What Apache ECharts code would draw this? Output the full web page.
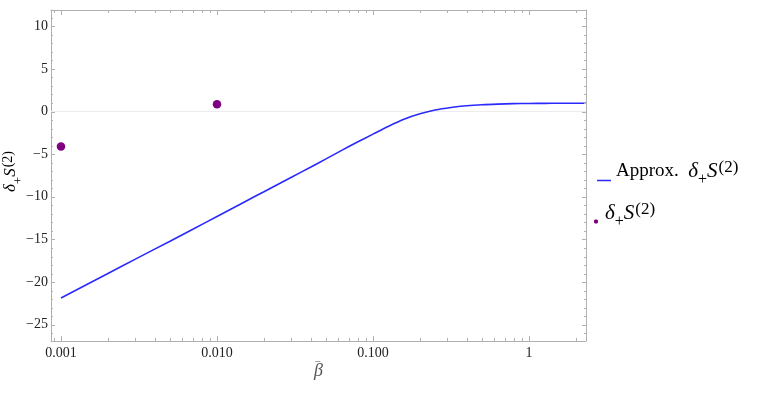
<!DOCTYPE html>
<html>
<head>
<meta charset="utf-8">
<script src="https://cdn.jsdelivr.net/npm/echarts@6/dist/echarts.min.js"></script>
<style>html,body{margin:0;padding:0;background:#fff}#c{width:763px;height:393px}</style>
</head>
<body>
<div id="c"></div>
<script>
// ---- data ----
const curveX = [0.001,0.002,0.003,0.005,0.007,0.01,0.015,0.02,0.03,0.04,0.05,0.063,0.079,0.1,0.126,0.158,0.2,0.25,0.316,0.398,0.5,0.63,0.79,1,1.26,1.58,2,2.32];
const curveY = [-21.85,-18.98,-17.3,-15.2,-13.8,-12.3,-10.6,-9.4,-7.7,-6.5,-5.55,-4.55,-3.6,-2.65,-1.72,-0.9,-0.27,0.18,0.48,0.68,0.8,0.87,0.92,0.945,0.96,0.965,0.97,0.97];
const pointX = [0.001, 0.01];
const pointY = [-4.1, 0.85];
const xMajorTicks = [0.001, 0.01, 0.1, 1];
const xTickLabels = ['0.001', '0.010', '0.100', '1'];
const xMinorTicks = [0.0009,0.002,0.003,0.004,0.005,0.006,0.007,0.008,0.009,0.02,0.03,0.04,0.05,0.06,0.07,0.08,0.09,0.2,0.3,0.4,0.5,0.6,0.7,0.8,0.9,2];
const yMajorTicks = [-25,-20,-15,-10,-5,0,5,10];
const yMinorTicks = [-26,-24,-23,-22,-21,-19,-18,-17,-16,-14,-13,-12,-11,-9,-8,-7,-6,-4,-3,-2,-1,1,2,3,4,6,7,8,9,11];
const xRange = [0.000863, 2.32];
const yRange = [-26.9, 11.9];

// ---- chart ----
const serif = 'Liberation Serif';
const frame = '#b0b0b0';
const mathRich = (fs, sub, sup, lh, supPad) => ({
  it: {fontFamily: serif, fontStyle: 'italic', fontSize: fs, color: '#000', lineHeight: lh},
  sub: {fontFamily: serif, fontSize: sub, color: '#000', verticalAlign: 'bottom', lineHeight: sub},
  sup: {fontFamily: serif, fontSize: sup, color: '#000', verticalAlign: 'top', lineHeight: sup, padding: [supPad, 0, 0, 1]}
});
const mathText = '{it|δ}{sub|+}{it|S}{sup|(2)}';

function xAxisDef(pos) {
  const isMain = pos === 'bottom';
  return {
    type: 'log', logBase: 10, position: pos, min: xRange[0], max: xRange[1],
    axisLine: {show: true, onZero: false, lineStyle: {color: frame, width: 1}},
    axisTick: {show: false},
    axisLabel: isMain ? {
      show: true, customValues: xMajorTicks, margin: 5,
      fontFamily: serif, fontSize: 14, color: '#222',
      formatter: v => { const i = xMajorTicks.findIndex(t => Math.abs(Math.log10(t) - Math.log10(v)) < 1e-6); return i >= 0 ? xTickLabels[i] : ''; }
    } : {show: false},
    splitLine: {show: false}, minorTick: {show: false},
    name: isMain ? '{bar|\u2212}\n{b|β}' : '',
    nameLocation: 'middle', nameGap: 20, nameMoveOverlap: false,
    nameTextStyle: {
      align: 'center',
      rich: {
        bar: {fontFamily: serif, fontSize: 11, color: '#555', lineHeight: 2, align: 'center', padding: [0, 2, 0, 0]},
        b: {fontFamily: serif, fontStyle: 'italic', fontSize: 18, color: '#555', lineHeight: 16, align: 'center'}
      }
    }
  };
}
function yAxisDef(pos) {
  const isMain = pos === 'left';
  return {
    type: 'value', position: pos, min: yRange[0], max: yRange[1],
    axisLine: {show: true, onZero: false, lineStyle: {color: frame, width: 1}},
    axisTick: {show: false},
    axisLabel: isMain ? {
      show: true, customValues: yMajorTicks, margin: 3,
      fontFamily: serif, fontSize: 14, color: '#222',
      formatter: v => v < 0 ? '\u2212' + (-v) : String(v)
    } : {show: false},
    splitLine: {show: false},
    name: isMain ? mathText : '',
    nameLocation: 'middle', nameGap: 26, nameRotate: 90, nameMoveOverlap: false,
    nameTextStyle: {fontFamily: serif, fontSize: 17, color: '#000', lineHeight: 28, padding: [0, 0, 0, 8], rich: mathRich(17, 13, 14, 28, 4)}
  };
}

// tick marks drawn through the axes' own scales
function xTickItem(params, api) {
  const v = api.value(0), len = api.value(2);
  const b = api.coord([v, yRange[0]]), t = api.coord([v, yRange[1]]);
  const st = {stroke: frame, lineWidth: 1};
  const x = Math.round(b[0]) + 0.5;
  return {type: 'group', children: [
    {type: 'line', shape: {x1: x, y1: b[1], x2: x, y2: b[1] - len}, style: st},
    {type: 'line', shape: {x1: x, y1: t[1], x2: x, y2: t[1] + len}, style: st}
  ]};
}
function yTickItem(params, api) {
  const v = api.value(1), len = api.value(2);
  const l = api.coord([xRange[0], v]), r = api.coord([xRange[1], v]);
  const st = {stroke: frame, lineWidth: 1};
  const y = Math.round(l[1]) + 0.5;
  return {type: 'group', children: [
    {type: 'line', shape: {x1: l[0], y1: y, x2: l[0] + len, y2: y}, style: st},
    {type: 'line', shape: {x1: r[0], y1: y, x2: r[0] - len, y2: y}, style: st}
  ]};
}

const legendTextStyle = {fontFamily: serif, fontSize: 19, color: '#000', lineHeight: 33, rich: mathRich(21, 16, 17, 33, 4.5)};

const chart = echarts.init(document.getElementById('c'), null, {renderer: 'canvas'});
chart.setOption({
  animation: false,
  backgroundColor: '#fff',
  grid: {left: 51, right: 177, top: 10, bottom: 52, containLabel: false, outerBoundsMode: 'none'},
  xAxis: [xAxisDef('bottom'), xAxisDef('top')],
  yAxis: [yAxisDef('left'), yAxisDef('right')],
  legend: [
    {
      data: [{name: 'approx', icon: 'path://M0,0L0.01,0L0,0.01ZM0,33L0.01,33L0,32.99ZM0,24.7L14,24.7L14,26.3L0,26.3Z'}],
      left: 597, top: 155, padding: 0, orient: 'vertical',
      itemWidth: 14, itemHeight: 33,
      selectedMode: false,
      formatter: () => 'Approx.  ' + mathText,
      textStyle: legendTextStyle
    },
    {
      data: [{name: 'exact', icon: 'path://M0,0L0.01,0L0,0.01ZM6,33L5.99,33L6,32.99ZM1,22.5L3,22.5L4,23.5L4,25.5L3,26.5L1,26.5L0,25.5L0,23.5Z'}],
      left: 594, top: 197, padding: 0, orient: 'vertical',
      itemWidth: 6, itemHeight: 33,
      selectedMode: false,
      formatter: () => mathText,
      textStyle: legendTextStyle
    }
  ],
  series: [
    {
      name: 'zero', type: 'line', xAxisIndex: 0, yAxisIndex: 0, z: 1, silent: true,
      data: [[xRange[0], 0], [xRange[1], 0]],
      showSymbol: false, symbol: 'none',
      lineStyle: {color: '#ececec', width: 1}
    },
    {
      name: 'xticks', type: 'custom', xAxisIndex: 0, yAxisIndex: 0, clip: false, silent: true, z: 5,
      data: xMajorTicks.map(v => [v, yRange[0], 5]).concat(xMinorTicks.map(v => [v, yRange[0], 3])),
      encode: {x: 0, y: 1},
      renderItem: xTickItem
    },
    {
      name: 'yticks', type: 'custom', xAxisIndex: 0, yAxisIndex: 0, clip: false, silent: true, z: 5,
      data: yMajorTicks.map(v => [xRange[0], v, 4]).concat(yMinorTicks.map(v => [xRange[0], v, 2])),
      encode: {x: 0, y: 1},
      renderItem: yTickItem
    },
    {
      name: 'approx', type: 'line', xAxisIndex: 0, yAxisIndex: 0,
      data: curveX.map((x, i) => [x, curveY[i]]),
      smooth: 0.25, showSymbol: false, symbol: 'none',
      color: '#2a2aff',
      lineStyle: {color: '#2a2aff', width: 1.6},
      z: 3
    },
    {
      name: 'exact', type: 'scatter', xAxisIndex: 0, yAxisIndex: 0,
      data: pointX.map((x, i) => [x, pointY[i]]),
      symbolSize: 8.5, color: '#800080',
      itemStyle: {color: '#800080', opacity: 1}, z: 4
    }
  ]
});
</script>
</body>
</html>
